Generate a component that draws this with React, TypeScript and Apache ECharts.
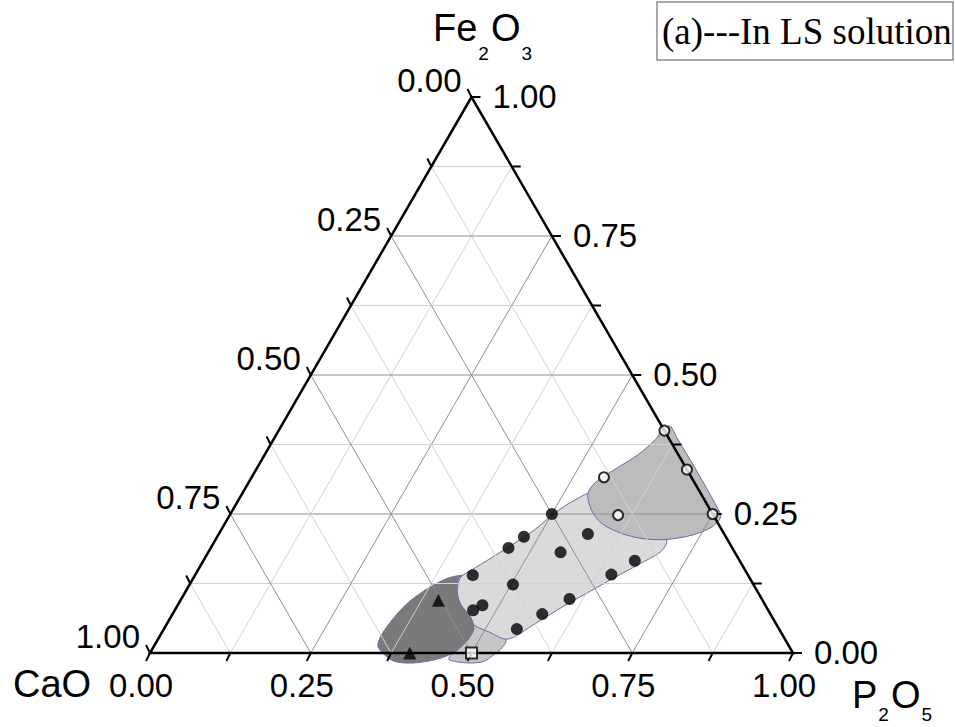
import React, { useEffect, useRef } from 'react';
import * as echarts from 'echarts';

const S = Math.sqrt(3) / 2;

// Ternary data: [P2O5 fraction, Fe2O3 fraction]; CaO = 1 - P - F
const filledCircles = [
  [0.500, 0.250], [0.477, 0.209], [0.463, 0.189], [0.574, 0.214], [0.548, 0.181],
  [0.671, 0.166], [0.647, 0.141], [0.432, 0.140], [0.503, 0.123], [0.604, 0.097],
  [0.464, 0.077], [0.474, 0.086], [0.575, 0.070], [0.549, 0.043],
];
const openCircles = [[0.600, 0.400], [0.670, 0.330], [0.750, 0.250], [0.548, 0.316], [0.604, 0.248]];
const triangles = [[0.401, 0.095], [0.404, 0.000]];
const squares = [[0.500, 0.000]];

const regionDark = [
  [0.350, 0.010], [0.385, -0.014], [0.418, -0.018], [0.452, -0.011], [0.472, 0.001],
  [0.482, 0.022], [0.482, 0.043], [0.467, 0.064], [0.439, 0.088], [0.421, 0.112],
  [0.413, 0.134], [0.416, 0.140], [0.395, 0.134], [0.373, 0.115], [0.355, 0.088],
  [0.346, 0.055], [0.344, 0.028],
];
const regionLower = [
  [0.478, 0.051], [0.510, 0.040], [0.541, 0.025], [0.543, 0.010], [0.535, -0.005],
  [0.527, -0.015], [0.507, -0.018], [0.486, -0.016], [0.470, -0.011], [0.472, 0.001],
  [0.482, 0.022],
];
const regionBand = [
  [0.415, 0.136], [0.428, 0.152], [0.455, 0.182], [0.487, 0.221], [0.503, 0.251],
  [0.523, 0.275], [0.547, 0.290], [0.609, 0.269], [0.689, 0.215], [0.704, 0.200],
  [0.703, 0.182], [0.680, 0.159], [0.655, 0.136], [0.627, 0.109], [0.599, 0.082],
  [0.572, 0.052], [0.544, 0.025], [0.508, 0.038], [0.478, 0.051], [0.442, 0.082],
  [0.422, 0.112],
];
const regionUpper = [
  [0.538, 0.286], [0.539, 0.306], [0.555, 0.327], [0.581, 0.357], [0.594, 0.384],
  [0.597, 0.403], [0.605, 0.408], [0.626, 0.387], [0.684, 0.330], [0.747, 0.266],
  [0.765, 0.245], [0.761, 0.227], [0.737, 0.212], [0.699, 0.204], [0.662, 0.206],
  [0.626, 0.215], [0.586, 0.233], [0.558, 0.257],
];

const tickLabels = ['0.00', '0.25', '0.50', '0.75', '1.00'];
const labelValues = [0, 0.25, 0.5, 0.75, 1];
const tickValues = [0, 0.125, 0.25, 0.375, 0.5, 0.625, 0.75, 0.875, 1];
const gridValues = [0.125, 0.25, 0.375, 0.5, 0.625, 0.75, 0.875];

const SANS = '"Liberation Sans", Arial, sans-serif';
const SERIF = '"Liberation Serif", "Times New Roman", serif';

function tern(p: number, f: number): number[] {
  return [p + f / 2, f * S];
}

function polygonSeries(pts: number[][], fill: string, z: number) {
  return {
    type: 'custom',
    silent: true,
    z,
    data: [[0.5, 0.1]],
    renderItem: (_p: any, api: any) => ({
      type: 'polygon',
      shape: { points: pts.map(([p, f]) => api.coord(tern(p, f))), smooth: 0.3 },
      style: { fill, stroke: '#6a6aa6', lineWidth: 1 },
    }),
  };
}

export default function App() {
  const ref = useRef<HTMLDivElement>(null);
  useEffect(() => {
    if (!ref.current) return;
    const chart = echarts.init(ref.current, null, { renderer: 'svg' });

    const gridLines: number[][] = [];
    gridValues.forEach((v) => {
      const major = Math.abs(v / 0.25 - Math.round(v / 0.25)) < 1e-9 ? 1 : 0;
      gridLines.push([...tern(0, v), ...tern(1 - v, v), major]);
      gridLines.push([...tern(v, 0), ...tern(v, 1 - v), major]);
      gridLines.push([...tern(0, 1 - v), ...tern(1 - v, 0), major]);
    });

    const ticks: number[][] = [];
    tickValues.forEach((v) => {
      ticks.push([...tern(v, 0), -4, 8]); // bottom axis (P2O5)
      ticks.push([...tern(0, 1 - v), -4, -8]); // left axis (CaO)
      ticks.push([...tern(1 - v, v), 9, 0]); // right axis (Fe2O3)
    });

    type LabelSpec = { pos: number[]; text: string; dx: number; dy: number; align: string };
    const labels: LabelSpec[] = [];
    labelValues.forEach((v, i) => {
      labels.push({ pos: tern(v, 0), text: tickLabels[i], dx: -9, dy: 32, align: 'center' });
      labels.push({ pos: tern(0, 1 - v), text: tickLabels[i], dx: -10, dy: -17, align: 'right' });
      labels.push({ pos: tern(1 - v, v), text: tickLabels[i], dx: 21, dy: -1, align: 'left' });
    });

    const makeRich = (pad: number) => ({
      m: { fontSize: 38, fontFamily: SANS, color: '#000', lineHeight: 40, verticalAlign: 'top' },
      s: { fontSize: 19, fontFamily: SANS, color: '#000', lineHeight: 16, verticalAlign: 'top', padding: [pad, 2, 0, 1] },
    });

    const option: any = {
      animation: false,
      grid: { left: 150, top: 97, width: 643, height: 556 },
      xAxis: { type: 'value', min: 0, max: 1, show: false },
      yAxis: { type: 'value', min: 0, max: S, show: false },
      graphic: [
        {
          type: 'rect',
          shape: { x: 657, y: 2, width: 296, height: 58 },
          style: { fill: '#fff', stroke: '#8c8c8c', lineWidth: 1.5 },
          z: 10,
        },
        {
          type: 'text',
          x: 662,
          y: 31,
          style: {
            text: '(a)---In LS solution',
            fontSize: 37,
            fontFamily: SERIF,
            fill: '#000',
            align: 'left',
            verticalAlign: 'middle',
            textAlign: 'left',
            textVerticalAlign: 'middle',
          },
          z: 11,
        },
        {
          type: 'text',
          x: 433,
          y: 9,
          style: {
            text: '{m|Fe}{s|2}{m|O}{s|3}',
            rich: makeRich(35),
            align: 'left',
            verticalAlign: 'top',
            textAlign: 'left',
            textVerticalAlign: 'top',
          },
          z: 11,
        },
        {
          type: 'text',
          x: 852,
          y: 676,
          style: {
            text: '{m|P}{s|2}{m|O}{s|5}',
            rich: makeRich(29),
            align: 'left',
            verticalAlign: 'top',
            textAlign: 'left',
            textVerticalAlign: 'top',
          },
          z: 11,
        },
        {
          type: 'text',
          x: 13,
          y: 684,
          style: {
            text: 'CaO',
            fontSize: 38,
            fontFamily: SANS,
            fill: '#000',
            align: 'left',
            verticalAlign: 'middle',
            textAlign: 'left',
            textVerticalAlign: 'middle',
          },
          z: 11,
        },
      ],
      series: [
        polygonSeries(regionLower, '#c6c6c6', 1),
        polygonSeries(regionBand, '#dadada', 2),
        polygonSeries(regionUpper, '#bcbcbc', 3),
        polygonSeries(regionDark, '#7a7a7a', 4),
        {
          type: 'custom',
          silent: true,
          z: 5,
          data: gridLines,
          renderItem: (_p: any, api: any) => {
            const a = api.coord([api.value(0), api.value(1)]);
            const b = api.coord([api.value(2), api.value(3)]);
            return {
              type: 'line',
              shape: { x1: a[0], y1: a[1], x2: b[0], y2: b[1] },
              style: { stroke: api.value(4) ? '#8e8e8e' : '#d2d2d2', lineWidth: 1 },
            };
          },
        },
        {
          type: 'custom',
          silent: true,
          z: 6,
          data: [[0.5, 0.1]],
          renderItem: (_p: any, api: any) => ({
            type: 'polygon',
            shape: { points: [tern(0, 0), tern(1, 0), tern(0, 1)].map((c) => api.coord(c)) },
            style: { fill: 'none', stroke: '#000', lineWidth: 2.5 },
          }),
        },
        {
          type: 'custom',
          silent: true,
          z: 6,
          data: ticks,
          renderItem: (_p: any, api: any) => {
            const a = api.coord([api.value(0), api.value(1)]);
            return {
              type: 'line',
              shape: { x1: a[0], y1: a[1], x2: a[0] + api.value(2), y2: a[1] + api.value(3) },
              style: { stroke: '#000', lineWidth: 2 },
            };
          },
        },
        {
          type: 'custom',
          silent: true,
          z: 7,
          data: labels.map((l) => l.pos),
          renderItem: (params: any, api: any) => {
            const l = labels[params.dataIndex];
            const a = api.coord(l.pos);
            return {
              type: 'text',
              x: a[0] + l.dx,
              y: a[1] + l.dy,
              style: {
                text: l.text,
                fontSize: 33,
                fontFamily: SANS,
                fill: '#000',
                align: l.align,
                verticalAlign: 'middle',
                textAlign: l.align,
                textVerticalAlign: 'middle',
              },
            };
          },
        },
        {
          type: 'scatter',
          z: 8,
          symbol: 'circle',
          symbolSize: 12,
          itemStyle: { color: '#000' },
          data: filledCircles.map(([p, f]) => tern(p, f)),
        },
        {
          type: 'scatter',
          z: 8,
          symbol: 'circle',
          symbolSize: 10,
          itemStyle: { color: '#fff', borderColor: '#000', borderWidth: 2 },
          data: openCircles.map(([p, f]) => tern(p, f)),
        },
        {
          type: 'scatter',
          z: 8,
          symbol: 'triangle',
          symbolSize: 13,
          itemStyle: { color: '#000' },
          data: triangles.map(([p, f]) => tern(p, f)),
        },
        {
          type: 'scatter',
          z: 8,
          symbol: 'rect',
          symbolSize: 11,
          itemStyle: { color: '#fff', borderColor: '#000', borderWidth: 2 },
          data: squares.map(([p, f]) => tern(p, f)),
        },
      ],
    };
    chart.setOption(option);
    return () => chart.dispose();
  }, []);

  return (
    <div
      ref={ref}
      style={{ position: 'fixed', left: 0, top: 0, width: 955, height: 727, background: '#fff' }}
    />
  );
}
